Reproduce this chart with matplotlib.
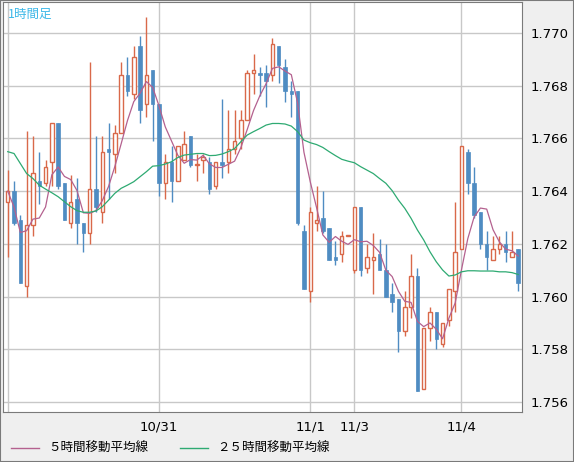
import matplotlib
matplotlib.use("Agg")
import matplotlib.pyplot as plt
from matplotlib.lines import Line2D
import numpy as np
import pandas as pd

plt.rcParams['font.family'] = ['Noto Sans CJK JP', 'DejaVu Sans']

opens = [1.7636,1.7640,1.7629,1.7604,1.7627,1.7644,1.7643,1.7651,1.7666,1.7643,
         1.7628,1.7637,1.7628,1.7624,1.7641,1.7632,1.7656,1.7654,1.7662,1.7684,
         1.7677,1.7695,1.7673,1.7686,1.7673,1.7643,1.7651,1.7644,1.7652,1.7661,
         1.7650,1.7652,1.7651,1.7642,1.7651,1.7651,1.7656,1.7660,1.7667,1.7685,
         1.7685,1.7685,1.7684,1.7695,1.7687,1.7678,1.7678,1.7625,1.7602,1.7628,
         1.7630,1.7626,1.7615,1.7616,1.7623,1.7610,1.7634,1.7611,1.7614,1.7616,
         1.7610,1.7601,1.7599,1.7587,1.7596,1.7608,1.7565,1.7588,1.7594,1.7582,
         1.7591,1.7602,1.7618,1.7655,1.7643,1.7632,1.7620,1.7614,1.7618,1.7620,
         1.7615,1.7618]
highs = [1.7648,1.7644,1.7631,1.7663,1.7661,1.7655,1.7652,1.7666,1.7666,1.7643,
         1.7646,1.7645,1.7628,1.7689,1.7661,1.7661,1.7666,1.7665,1.7689,1.7691,
         1.7695,1.7699,1.7706,1.7686,1.7673,1.7654,1.7657,1.7657,1.7663,1.7661,
         1.7654,1.7654,1.7653,1.7651,1.7675,1.7671,1.7671,1.7671,1.7686,1.7692,
         1.7687,1.7688,1.7698,1.7695,1.7690,1.7682,1.7678,1.7627,1.7634,1.7642,
         1.7640,1.7626,1.7621,1.7625,1.7623,1.7634,1.7634,1.7620,1.7624,1.7622,
         1.7620,1.7605,1.7599,1.7602,1.7616,1.7611,1.7588,1.7596,1.7594,1.7590,
         1.7603,1.7636,1.7657,1.7656,1.7649,1.7632,1.7625,1.7623,1.7623,1.7625,
         1.7625,1.7618]
lows = [1.7615,1.7627,1.7605,1.7600,1.7623,1.7635,1.7642,1.7642,1.7641,1.7629,
        1.7626,1.7620,1.7617,1.7620,1.7632,1.7628,1.7637,1.7647,1.7662,1.7676,
        1.7675,1.7666,1.7668,1.7659,1.7638,1.7637,1.7636,1.7644,1.7652,1.7649,
        1.7644,1.7647,1.7639,1.7641,1.7645,1.7647,1.7654,1.7656,1.7667,1.7677,
        1.7676,1.7672,1.7682,1.7681,1.7674,1.7668,1.7627,1.7603,1.7598,1.7625,
        1.7624,1.7614,1.7612,1.7613,1.7623,1.7609,1.7608,1.7609,1.7601,1.7610,
        1.7600,1.7594,1.7579,1.7585,1.7592,1.7564,1.7565,1.7583,1.7580,1.7581,
        1.7589,1.7594,1.7618,1.7639,1.7630,1.7618,1.7610,1.7614,1.7616,1.7613,
        1.7615,1.7602]
closes = [1.7640,1.7628,1.7605,1.7627,1.7647,1.7642,1.7649,1.7666,1.7642,1.7629,
          1.7636,1.7628,1.7624,1.7641,1.7634,1.7655,1.7655,1.7662,1.7684,1.7678,
          1.7691,1.7671,1.7684,1.7673,1.7643,1.7651,1.7644,1.7657,1.7658,1.7650,
          1.7650,1.7653,1.7641,1.7651,1.7650,1.7656,1.7659,1.7667,1.7685,1.7686,
          1.7684,1.7682,1.7696,1.7688,1.7678,1.7677,1.7628,1.7603,1.7632,1.7629,
          1.7625,1.7614,1.7614,1.7623,1.7623,1.7634,1.7610,1.7615,1.7615,1.7610,
          1.7600,1.7598,1.7587,1.7596,1.7608,1.7564,1.7588,1.7594,1.7584,1.7590,
          1.7603,1.7617,1.7657,1.7643,1.7631,1.7620,1.7615,1.7618,1.7620,1.7617,
          1.7617,1.7605]
ma25 = [1.76550,1.76543,1.76505,1.76467,1.76448,1.76423,1.76408,1.76394,1.76379,1.76360,
        1.76341,1.76326,1.76320,1.76320,1.76325,1.76341,1.76366,1.76392,1.76411,1.76423,
        1.76436,1.76455,1.76474,1.76495,1.76497,1.76503,1.76512,1.76528,1.76537,1.76540,
        1.76543,1.76543,1.76535,1.76536,1.76541,1.76550,1.76562,1.76588,1.76613,1.76626,
        1.76638,1.76651,1.76657,1.76657,1.76655,1.76647,1.76626,1.76594,1.76584,1.76577,
        1.76566,1.76550,1.76535,1.76521,1.76514,1.76508,1.76493,1.76480,1.76467,1.76448,
        1.76430,1.76402,1.76366,1.76335,1.76297,1.76253,1.76215,1.76170,1.76132,1.76101,
        1.76078,1.76082,1.76094,1.76098,1.76098,1.76097,1.76097,1.76097,1.76094,1.76094,
        1.76091,1.76084]
tick_pos = [24, 48, 55, 72]
tick_labels = ["10/31", "11/1", "11/3", "11/4"]
yticks = [1.756, 1.758, 1.760, 1.762, 1.764, 1.766, 1.768, 1.770]

RED = "#d9694a"
BLUE = "#4f8cc2"

fig = plt.figure(figsize=(5.74, 4.62), dpi=100, facecolor="#efefef")
ax = fig.add_axes([3/574, 50/462, 519/574, 410/462])
ax.set_facecolor("white")

n = len(opens)
x = np.arange(n)
o = np.array(opens); c = np.array(closes); h = np.array(highs); l = np.array(lows)
up = c >= o
ax.vlines(x[up], l[up], h[up], color=RED, lw=1, zorder=3)
ax.vlines(x[~up], l[~up], h[~up], color=BLUE, lw=1, zorder=3)
bh = np.abs(c - o)
bh = np.where(bh < 0.00004, 0.00004, bh)
ax.bar(x[up], bh[up], bottom=np.minimum(o, c)[up], width=0.55, facecolor="white",
       edgecolor=RED, lw=1, zorder=4)
ax.bar(x[~up], bh[~up], bottom=np.minimum(o, c)[~up], width=0.55, facecolor=BLUE,
       edgecolor=BLUE, lw=0.5, zorder=4)

ma5 = pd.Series(closes).rolling(5, min_periods=1).mean().values
ax.plot(x, ma5, color="#b4618f", lw=0.9, zorder=5)
ax.plot(x, ma25, color="#2eaa72", lw=0.9, zorder=5)

ax.set_xlim(-0.75, 81.6)
ax.set_ylim(1.75562, 1.77118)
ax.set_yticks(yticks)
ax.set_yticklabels([f"{v:.3f}" for v in yticks], fontsize=9.5, family="DejaVu Sans")
ax.yaxis.tick_right()
ax.set_xticks([0] + tick_pos)
ax.set_xticklabels([""] + tick_labels, fontsize=9.5, family="DejaVu Sans")
ax.tick_params(length=0, pad=6)
ax.grid(True, color="#c8c8c8", lw=1)
ax.set_axisbelow(True)
for s in ax.spines.values():
    s.set_color("#7a7a7a")

ax.text(0.01, 0.985, "1時間足", transform=ax.transAxes, color="#3db8e8",
        fontsize=9, va="top", ha="left")

handles = [Line2D([], [], color="#b4618f", lw=1), Line2D([], [], color="#2eaa72", lw=1)]
fig.legend(handles, ["５時間移動平均線", "２５時間移動平均線"], loc="lower left",
           bbox_to_anchor=(0.0, -0.01), ncol=2, frameon=False, fontsize=9,
           handlelength=2.2, columnspacing=2.5)

fig.patches.append(plt.Rectangle((0, 0), 1, 1, transform=fig.transFigure,
                                 fill=False, edgecolor="#7a7a7a", lw=1.5))
fig.savefig("out.png", dpi=100, facecolor=fig.get_facecolor())
